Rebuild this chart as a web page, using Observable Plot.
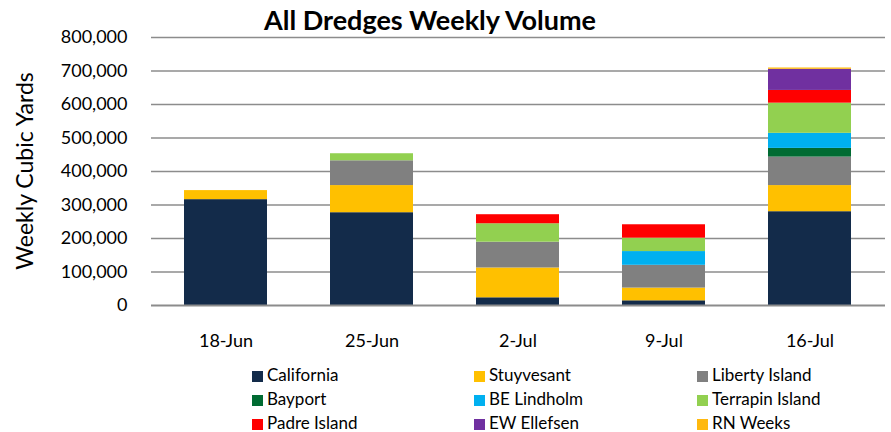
<!DOCTYPE html>
<html>
<head>
<meta charset="utf-8">
<script src="https://cdn.jsdelivr.net/npm/d3@7"></script>
<script src="https://cdn.jsdelivr.net/npm/@observablehq/plot@0.6"></script>
<style>
  html, body { margin: 0; padding: 0; background: #fff; }
  body { width: 891px; height: 432px; position: relative; overflow: hidden; font-family: Lato, "Open Sans", sans-serif; color: #000; }
  #title { position: absolute; left: 0; top: 4px; width: 860px; text-align: center; font-weight: bold; font-size: 27px; line-height: 32px; z-index: 2; }
  #ytitle { position: absolute; left: 24px; top: 171px; width: 0; height: 0; }
  #ytitle div { position: absolute; left: 0; top: 0; transform: translate(-50%, -50%) rotate(-90deg); white-space: nowrap; font-size: 23px; line-height: 26px; }
  #chart { position: absolute; left: 0; top: 18px; }
  .leg { position: absolute; font-size: 17px; line-height: 20px; white-space: nowrap; }
  .leg span.sw { display: inline-block; width: 11px; height: 11px; margin-right: 4px; vertical-align: -1px; }
</style>
</head>
<body>
<div id="chart"></div>
<div id="title">All Dredges Weekly Volume</div>
<div id="ytitle"><div>Weekly Cubic Yards</div></div>
<div id="legend"></div>
<script>
const weeks = ["18-Jun", "25-Jun", "2-Jul", "9-Jul", "16-Jul"];
const dredges = ["California", "Stuyvesant", "Liberty Island", "Bayport", "BE Lindholm", "Terrapin Island", "Padre Island", "EW Ellefsen", "RN Weeks"];
const colors = ["#132b4a", "#ffc000", "#808080", "#006b32", "#00b0f0", "#92d050", "#ff0000", "#7030a0", "#ffb90f"];

const california     = [316000, 277000, 23000, 14000, 280000];
const stuyvesant     = [27000, 81000, 89000, 38000, 78000];
const libertyIsland  = [0, 74000, 77000, 68000, 85000];
const bayport        = [0, 0, 0, 0, 26000];
const beLindholm     = [0, 0, 0, 41000, 45000];
const terrapinIsland = [0, 21000, 55000, 40000, 90000];
const padreIsland    = [0, 0, 27000, 40000, 38000];
const ewEllefsen     = [0, 0, 0, 0, 63000];
const rnWeeks        = [0, 0, 0, 0, 4000];
const yTicks = [0, 100000, 200000, 300000, 400000, 500000, 600000, 700000, 800000];

const series = [california, stuyvesant, libertyIsland, bayport, beLindholm, terrapinIsland, padreIsland, ewEllefsen, rnWeeks];
const rows = [];
dredges.forEach((d, i) => weeks.forEach((w, j) => rows.push({week: w, dredge: d, value: series[i][j]})));

const chart = Plot.plot({
  width: 891,
  height: 343,
  marginTop: 19,
  marginBottom: 56,
  marginLeft: 151,
  marginRight: 6,
  style: {fontFamily: "Lato, 'Open Sans', sans-serif", color: "#000", background: "transparent"},
  x: {type: "band", domain: weeks, paddingInner: 0.43, paddingOuter: 0.215, label: null},
  y: {domain: [0, 800000], label: null},
  color: {domain: dredges, range: colors},
  marks: [
    Plot.ruleY(yTicks.slice(1), {stroke: "#8c8c8c", strokeWidth: 1.6}),
    Plot.barY(rows, {x: "week", y: "value", fill: "dredge", order: dredges}),
    Plot.ruleY([0], {stroke: "#8c8c8c", strokeWidth: 2}),
    Plot.axisY({ticks: yTicks, tickFormat: d3.format(","), tickSize: 0, tickPadding: 24, fontSize: 18, label: null}),
    Plot.axisX({tickSize: 0, tickPadding: 29, fontSize: 18, label: null})
  ]
});
document.getElementById("chart").appendChild(chart);

const legend = document.getElementById("legend");
const colX = [252, 474, 697];
const rowY = [365, 389, 413];
dredges.forEach((d, i) => {
  const el = document.createElement("div");
  el.className = "leg";
  el.style.left = colX[i % 3] + "px";
  el.style.top = rowY[Math.floor(i / 3)] + "px";
  el.innerHTML = `<span class="sw" style="background:${colors[i]}"></span>${d}`;
  legend.appendChild(el);
});
</script>
</body>
</html>
